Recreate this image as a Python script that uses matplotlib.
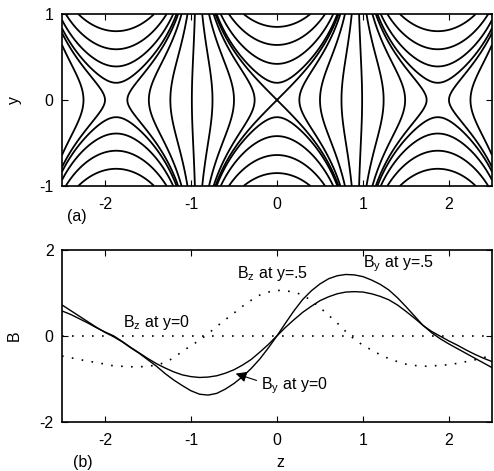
import numpy as np
import matplotlib
matplotlib.use("Agg")
import matplotlib.pyplot as plt

plt.rcParams['font.family'] = ['Liberation Sans', 'DejaVu Sans']
plt.rcParams['mathtext.fontset'] = 'custom'
plt.rcParams['mathtext.rm'] = 'Liberation Sans'
plt.rcParams['mathtext.it'] = 'Liberation Sans'
plt.rcParams['axes.unicode_minus'] = False

# --- panel (a): field lines ---
half_cell = 1.87                      # X-points at z = 0, +-1.87
cross_z = [0.26, 0.50, 0.75, 0.99, 1.24, 1.49, 1.74]   # |z| where lines cross y=0
arc_y_mid = [0.0, 0.20, 0.42, 0.64, 0.85]  # lines above/below X-point at z=0 (0 = separatrix)
arc_y_side = [0.20, 0.39, 0.59, 0.80]      # lines above/below X-points at z=+-1.87

# --- panel (b): field profiles, sampled every 0.1 in z ---
z_vals = np.linspace(-2.5, 2.5, 51)
by_y0 = [0.58, 0.50, 0.40, 0.30, 0.19, 0.09, 0.00, -0.13, -0.27, -0.40,
         -0.53, -0.65, -0.75, -0.84, -0.91, -0.95, -0.97, -0.96, -0.93, -0.87,
         -0.79, -0.68, -0.55, -0.38, -0.20, 0.00, 0.20, 0.38, 0.55, 0.69,
         0.82, 0.91, 0.98, 1.02, 1.03, 1.02, 0.98, 0.92, 0.84, 0.72,
         0.57, 0.41, 0.24, 0.10, -0.01, -0.12, -0.22, -0.33, -0.43, -0.52, -0.60]
by_y5 = [0.72, 0.59, 0.46, 0.33, 0.20, 0.08, -0.02, -0.14, -0.28, -0.41,
         -0.56, -0.71, -0.88, -1.03, -1.16, -1.28, -1.36, -1.38, -1.34, -1.24,
         -1.11, -0.95, -0.76, -0.54, -0.28, 0.00, 0.30, 0.59, 0.85, 1.05,
         1.21, 1.33, 1.40, 1.43, 1.42, 1.38, 1.30, 1.20, 1.07, 0.89,
         0.68, 0.46, 0.24, 0.07, -0.07, -0.19, -0.30, -0.41, -0.52, -0.63, -0.74]
bz_y5 = [-0.47, -0.51, -0.55, -0.59, -0.62, -0.66, -0.70, -0.71, -0.72, -0.72,
         -0.71, -0.68, -0.62, -0.51, -0.36, -0.23, -0.10, 0.05, 0.22, 0.38,
         0.53, 0.69, 0.83, 0.95, 1.02, 1.06, 1.05, 1.02, 0.95, 0.82,
         0.66, 0.48, 0.30, 0.10, -0.08, -0.22, -0.33, -0.44, -0.53, -0.60,
         -0.66, -0.69, -0.71, -0.70, -0.69, -0.67, -0.64, -0.60, -0.56, -0.51, -0.45]
bz_y0 = [0.0] * len(z_vals)

fig = plt.figure(figsize=(4.94, 4.71), dpi=100)
ax1 = fig.add_axes([0.1255, 0.6051, 0.8704, 0.3652])
ax2 = fig.add_axes([0.1255, 0.1047, 0.8704, 0.3645])

k = np.pi / half_cell
zz, yy = np.meshgrid(np.linspace(-2.5, 2.5, 801), np.linspace(-1, 1, 401))
psi = np.cos(k * zz) * np.cosh(k * yy)
levels = [np.cos(k * z) for z in cross_z]
levels += [np.cosh(k * y) for y in arc_y_mid]
levels += [-np.cosh(k * y) for y in arc_y_side]
ax1.contour(zz, yy, psi, levels=sorted(levels), colors='k', linewidths=1.3,
            linestyles='solid')
ax1.set_xlim(-2.5, 2.5)
ax1.set_ylim(-1, 1)
ax1.set_xticks([-2, -1, 0, 1, 2])
ax1.set_yticks([-1, 0, 1])

fs = 11.5
ax1.set_ylabel('y', fontsize=fs)
ax1.yaxis.set_label_coords(-0.093, 0.5)

ax2.plot(z_vals, by_y0, color='k', lw=1.0)
ax2.plot(z_vals, by_y5, color='k', lw=1.0)
ax2.plot(z_vals, bz_y0, color='k', lw=1.2, linestyle=(0, (1, 5)))
ax2.plot(z_vals, bz_y5, color='k', lw=1.2, linestyle=(0, (1, 5)))
ax2.set_xlim(-2.5, 2.5)
ax2.set_ylim(-2, 2)
ax2.set_xticks([-2, -1, 0, 1, 2])
ax2.set_yticks([-2, 0, 2])
ax2.set_ylabel('B', fontsize=fs)
ax2.yaxis.set_label_coords(-0.093, 0.5)

ax2.text(-1.79, 0.2, r'B$_\mathrm{z}$ at y=0', fontsize=fs, va='baseline')
ax2.text(-0.47, 1.34, r'B$_\mathrm{z}$ at y=.5', fontsize=fs, va='baseline')
ax2.text(1.0, 1.59, r'B$_\mathrm{y}$ at y=.5', fontsize=fs, va='baseline')
ax2.annotate(r'B$_\mathrm{y}$ at y=0', xy=(-0.48, -0.88), xytext=(-0.19, -1.25),
             fontsize=fs, va='baseline',
             arrowprops=dict(arrowstyle='-|>', color='k', lw=0.8, mutation_scale=16,
                             shrinkA=1, shrinkB=0, relpos=(0, 0.7)))

for ax in (ax1, ax2):
    ax.tick_params(direction='in', top=True, right=True, length=4, width=0.8,
                   labelsize=fs, pad=6)
    ax.tick_params(axis='x', pad=8)
    for s in ax.spines.values():
        s.set_linewidth(1.2)

fig.text(77 / 494, 1 - 217 / 471, '(a)', fontsize=fs, ha='center', va='center')
fig.text(83 / 494, 1 - 462 / 471, '(b)', fontsize=fs, ha='center', va='center')
fig.text(280 / 494, 0.003, 'z', fontsize=fs, ha='center', va='bottom')

fig.savefig('out.png', dpi=100)
